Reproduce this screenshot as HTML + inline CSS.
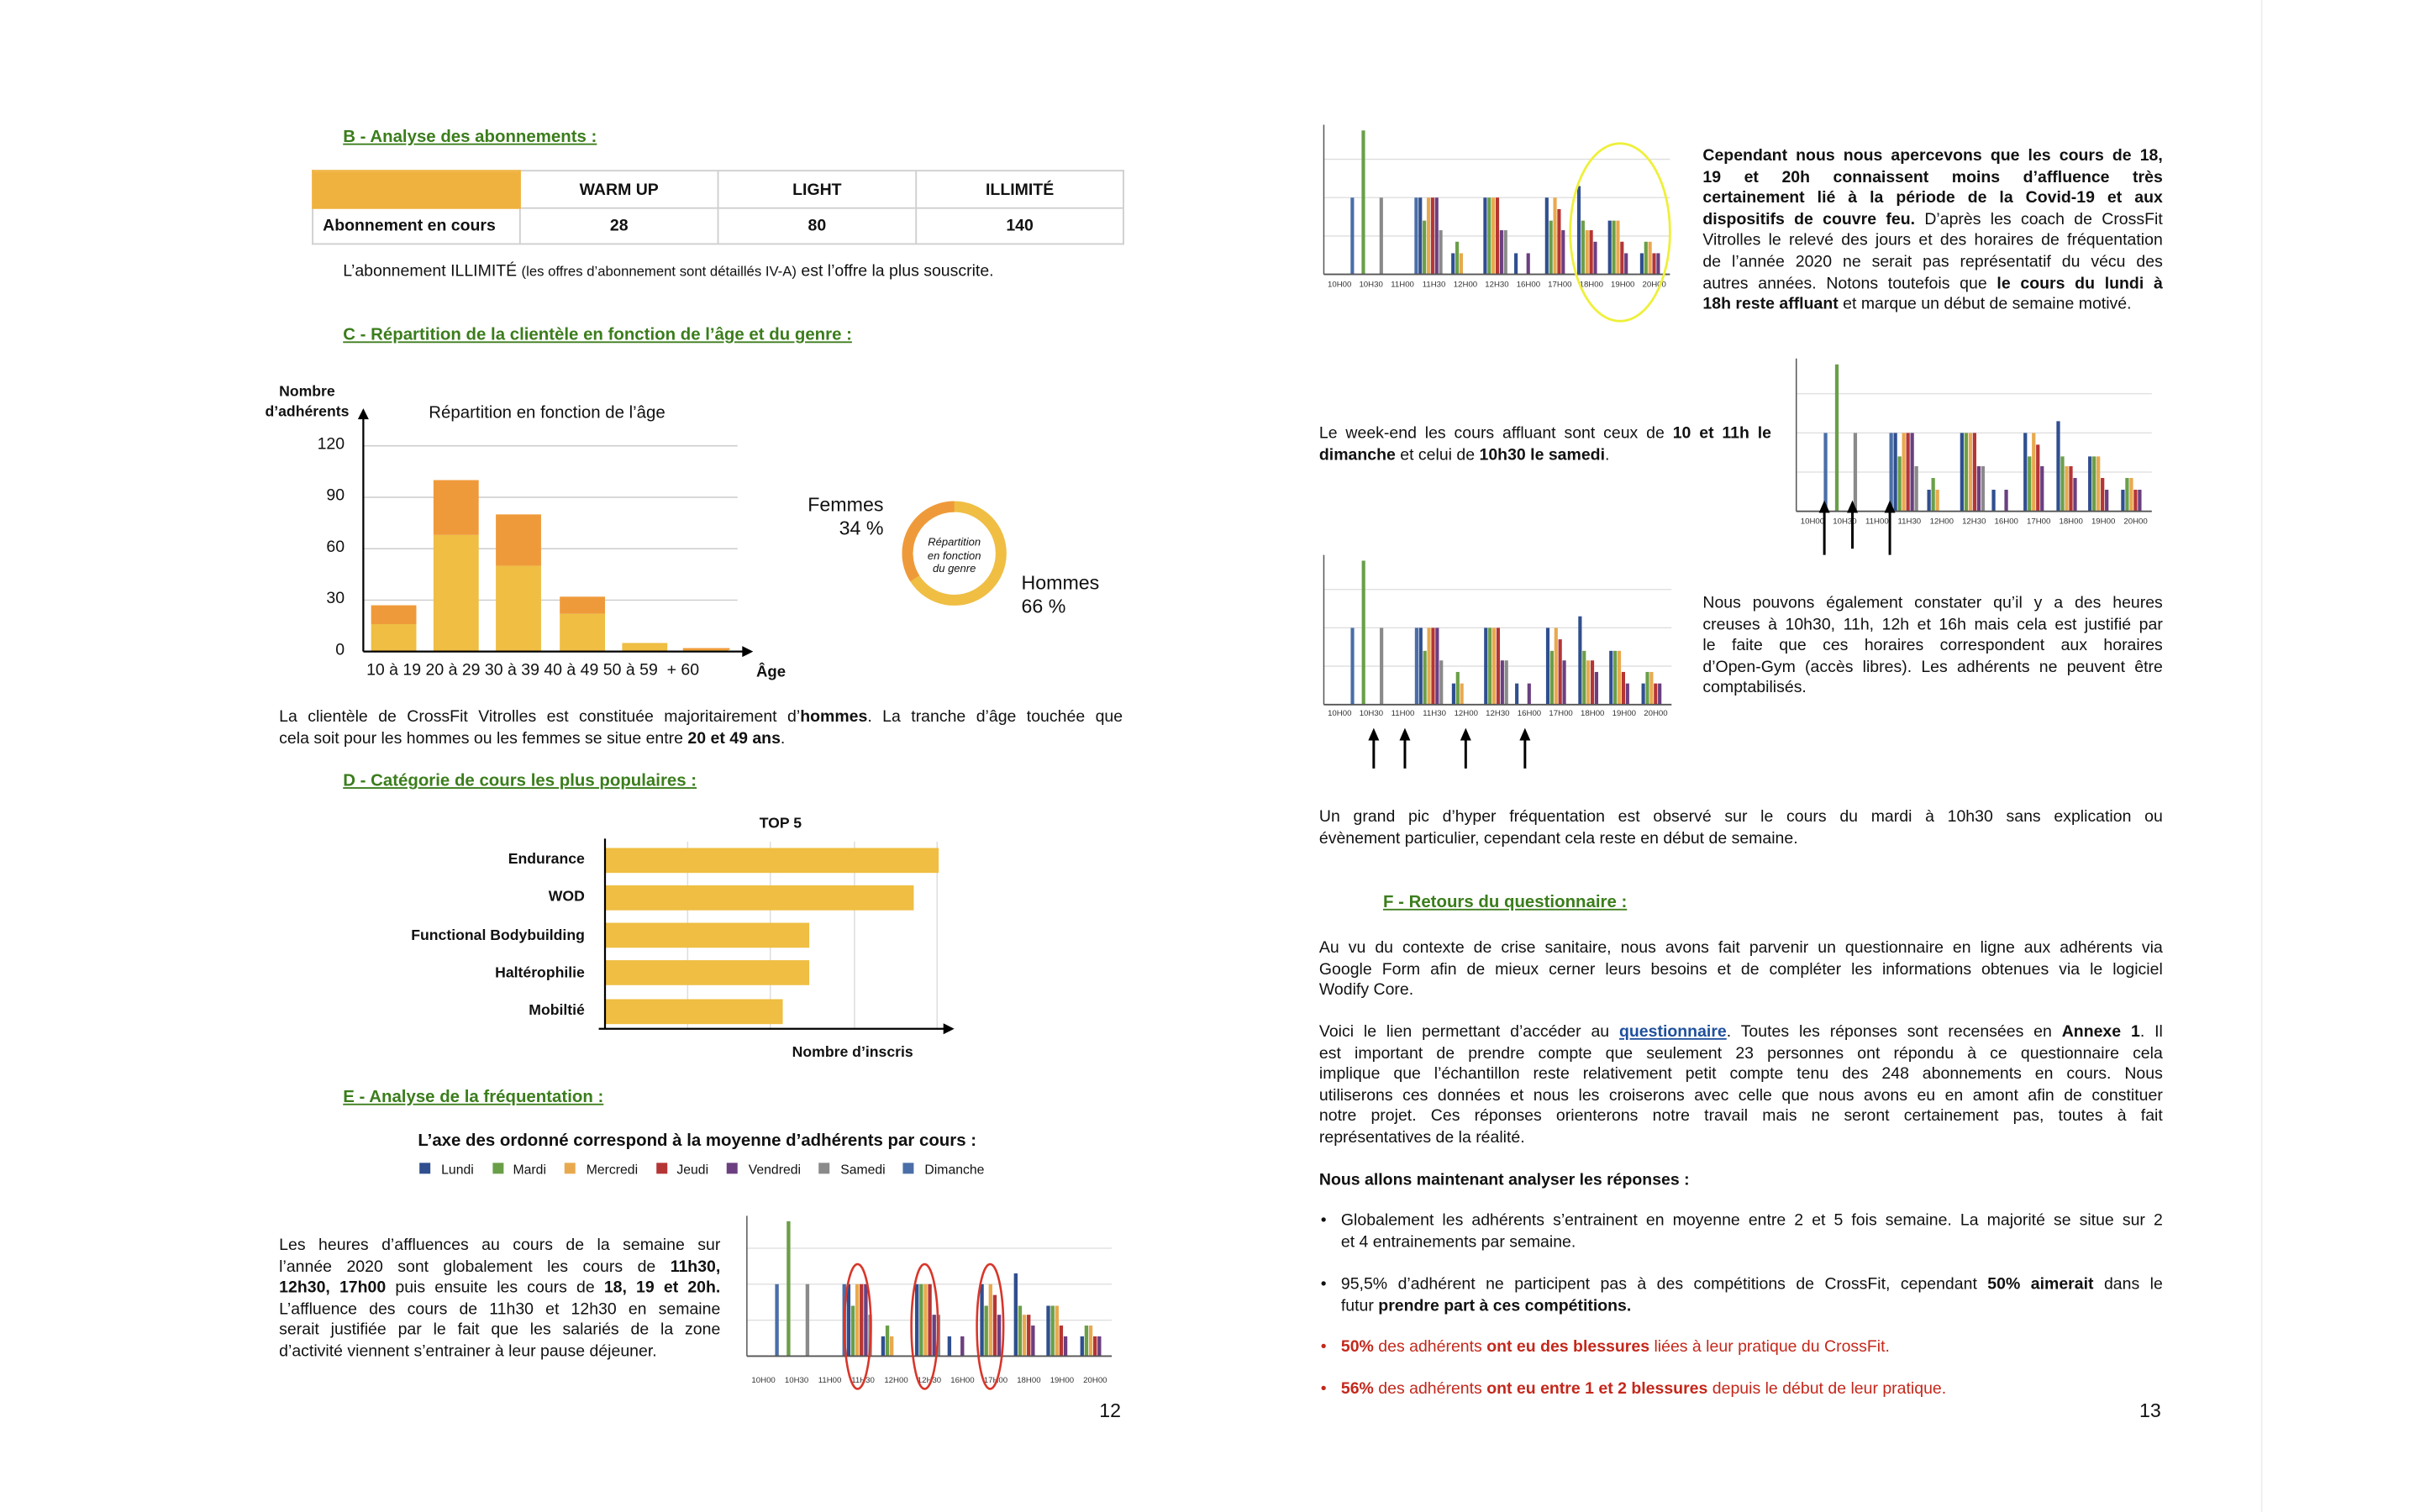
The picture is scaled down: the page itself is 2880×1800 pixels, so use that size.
<!DOCTYPE html>
<html><head><meta charset="utf-8"><style>
html,body{margin:0;padding:0;background:#fff;width:2880px;height:1800px;overflow:hidden}
#p{position:absolute;left:0;top:0;width:1552px;height:970px;transform:scale(1.85567);transform-origin:0 0;font-family:"Liberation Sans",Arial,sans-serif;color:#111;font-size:10.5px}
.a{position:absolute;white-space:nowrap;line-height:13.6px}
.h{position:absolute;color:#3b7d1c;font-weight:bold;text-decoration:underline;font-size:11px;white-space:nowrap}
.j{position:absolute;line-height:13.6px}
.j div{text-align:justify;text-align-last:justify;white-space:nowrap;height:13.6px;overflow:visible}
.j div.l{text-align-last:left}
b{font-weight:bold}
.red{color:#c4271b}
td{border:1px solid #cfcfcf;text-align:center;font-weight:bold;font-size:10.5px;padding:0}
</style></head><body><div id="p">
<div style="position:absolute;left:1450px;top:0;width:1px;height:970px;background:#eee"></div>
<svg id="g" width="1552" height="970" style="position:absolute;left:0;top:0"></svg>

<div class="h" style="left:220px;top:82px">B - Analyse des abonnements :</div>
<table style="position:absolute;left:200px;top:109px;border-collapse:collapse;width:521px;height:48px">
<tr style="height:24px"><td style="width:132px;background:#f0b23e;border-color:#f0b23e"></td><td style="width:126px">WARM UP</td><td style="width:126px">LIGHT</td><td>ILLIMITÉ</td></tr>
<tr><td style="text-align:left;padding-left:6px">Abonnement en cours</td><td>28</td><td>80</td><td>140</td></tr></table>
<div class="a" style="left:220px;top:168px">L’abonnement ILLIMITÉ <span style="font-size:9px">(les offres d’abonnement sont détaillés IV-A)</span> est l’offre la plus souscrite.</div>

<div class="h" style="left:220px;top:209px">C - Répartition de la clientèle en fonction de l’âge et du genre :</div>
<div class="a" style="left:170px;top:245px;font-size:9.5px;font-weight:bold;text-align:center;line-height:13px">Nombre<br>d’adhérents</div>
<div class="a" style="left:275px;top:259px;font-size:11px">Répartition en fonction de l’âge</div>
<div class="a" style="left:196px;top:279px;width:25px;text-align:right">120</div>
<div class="a" style="left:196px;top:312px;width:25px;text-align:right">90</div>
<div class="a" style="left:196px;top:345px;width:25px;text-align:right">60</div>
<div class="a" style="left:196px;top:378px;width:25px;text-align:right">30</div>
<div class="a" style="left:196px;top:411px;width:25px;text-align:right">0</div>
<div class="a" style="left:235px;top:424px;font-size:10.5px">10 à 19 20 à 29 30 à 39 40 à 49 50 à 59 &nbsp;+ 60</div>
<div class="a" style="left:485px;top:425px;font-weight:bold;font-size:10px">Âge</div>
<div class="a" style="left:518px;top:317px;font-size:12.5px;text-align:right;line-height:15px">Femmes<br>34 %</div>
<div class="a" style="left:655px;top:367px;font-size:12.5px;line-height:15px">Hommes<br>66 %</div>
<div class="a" style="left:586px;top:345px;width:52px;text-align:center;font-size:7px;font-style:italic;line-height:8.5px">Répartition<br>en fonction<br>du genre</div>

<div class="j" style="left:179px;top:454px;width:541px"><div>La clientèle de CrossFit Vitrolles est constituée majoritairement d’<b>hommes</b>. La tranche d’âge touchée que</div><div class="l">cela soit pour les hommes ou les femmes se situe entre <b>20 et 49 ans</b>.</div></div>

<div class="h" style="left:220px;top:495px">D - Catégorie de cours les plus populaires :</div>
<div class="a" style="left:487px;top:522px;font-weight:bold;font-size:9.5px">TOP 5</div>
<div class="a" style="left:200px;top:545px;width:175px;text-align:right;font-weight:bold;font-size:9.5px">Endurance</div>
<div class="a" style="left:200px;top:569px;width:175px;text-align:right;font-weight:bold;font-size:9.5px">WOD</div>
<div class="a" style="left:200px;top:594px;width:175px;text-align:right;font-weight:bold;font-size:9.5px">Functional Bodybuilding</div>
<div class="a" style="left:200px;top:618px;width:175px;text-align:right;font-weight:bold;font-size:9.5px">Haltérophilie</div>
<div class="a" style="left:200px;top:642px;width:175px;text-align:right;font-weight:bold;font-size:9.5px">Mobiltié</div>
<div class="a" style="left:508px;top:669px;font-weight:bold;font-size:9.5px">Nombre d’inscris</div>

<div class="h" style="left:220px;top:698px">E - Analyse de la fréquentation :</div>
<div class="a" style="left:268px;top:726px;font-weight:bold;font-size:11px">L’axe des ordonné correspond à la moyenne d’adhérents par cours :</div>
<div class="a" style="left:283px;top:744px;font-size:8.5px">Lundi</div>
<div class="a" style="left:329px;top:744px;font-size:8.5px">Mardi</div>
<div class="a" style="left:376px;top:744px;font-size:8.5px">Mercredi</div>
<div class="a" style="left:434px;top:744px;font-size:8.5px">Jeudi</div>
<div class="a" style="left:480px;top:744px;font-size:8.5px">Vendredi</div>
<div class="a" style="left:539px;top:744px;font-size:8.5px">Samedi</div>
<div class="a" style="left:593px;top:744px;font-size:8.5px">Dimanche</div>

<div class="j" style="left:179px;top:793px;width:283px"><div>Les heures d’affluences au cours de la semaine sur</div><div>l’année 2020 sont globalement les cours de <b>11h30,</b></div><div><b>12h30, 17h00</b> puis ensuite les cours de <b>18, 19 et 20h.</b></div><div>L’affluence des cours de 11h30 et 12h30 en semaine</div><div>serait justifiée par le fait que les salariés de la zone</div><div class="l">d’activité viennent s’entrainer à leur pause déjeuner.</div></div>
<div class="a" style="left:705px;top:899px;font-size:12.5px">12</div>

<div class="j" style="left:1092px;top:94px;width:295px"><div><b>Cependant nous nous apercevons que les cours de 18,</b></div><div><b>19 et 20h connaissent moins d’affluence très</b></div><div><b>certainement lié à la période de la Covid-19 et aux</b></div><div><b>dispositifs de couvre feu.</b> D’après les coach de CrossFit</div><div>Vitrolles le relevé des jours et des horaires de fréquentation</div><div>de l’année 2020 ne serait pas représentatif du vécu des</div><div>autres années. Notons toutefois que <b>le cours du lundi à</b></div><div class="l"><b>18h reste affluant</b> et marque un début de semaine motivé.</div></div>

<div class="j" style="left:846px;top:272px;width:290px"><div>Le week-end les cours affluant sont ceux de <b>10 et 11h le</b></div><div class="l"><b>dimanche</b> et celui de <b>10h30 le samedi</b>.</div></div>

<div class="j" style="left:1092px;top:381px;width:295px"><div>Nous pouvons également constater qu’il y a des heures</div><div>creuses à 10h30, 11h, 12h et 16h mais cela est justifié par</div><div>le faite que ces horaires correspondent aux horaires</div><div>d’Open-Gym (accès libres). Les adhérents ne peuvent être</div><div class="l">comptabilisés.</div></div>

<div class="j" style="left:846px;top:518px;width:541px"><div>Un grand pic d’hyper fréquentation est observé sur le cours du mardi à 10h30 sans explication ou</div><div class="l">évènement particulier, cependant cela reste en début de semaine.</div></div>

<div class="h" style="left:887px;top:573px">F - Retours du questionnaire :</div>
<div class="j" style="left:846px;top:602px;width:541px"><div>Au vu du contexte de crise sanitaire, nous avons fait parvenir un questionnaire en ligne aux adhérents via</div><div>Google Form afin de mieux cerner leurs besoins et de compléter les informations obtenues via le logiciel</div><div class="l">Wodify Core.</div></div>
<div class="j" style="left:846px;top:656px;width:541px"><div>Voici le lien permettant d’accéder au <b style="color:#1f4f9c;text-decoration:underline">questionnaire</b>. Toutes les réponses sont recensées en <b>Annexe 1</b>. Il</div><div>est important de prendre compte que seulement 23 personnes ont répondu à ce questionnaire cela</div><div>implique que l’échantillon reste relativement petit compte tenu des 248 abonnements en cours. Nous</div><div>utiliserons ces données et nous les croiserons avec celle que nous avons eu en amont afin de constituer</div><div>notre projet. Ces réponses orienterons notre travail mais ne seront certainement pas, toutes à fait</div><div class="l">représentatives de la réalité.</div></div>
<div class="a" style="left:846px;top:751px;font-weight:bold">Nous allons maintenant analyser les réponses :</div>
<div class="a" style="left:847px;top:777px">•</div>
<div class="j" style="left:860px;top:777px;width:527px"><div>Globalement les adhérents s’entrainent en moyenne entre 2 et 5 fois semaine. La majorité se situe sur 2</div><div class="l">et 4 entrainements par semaine.</div></div>
<div class="a" style="left:847px;top:818px">•</div>
<div class="j" style="left:860px;top:818px;width:527px"><div>95,5% d’adhérent ne participent pas à des compétitions de CrossFit, cependant <b>50% aimerait</b> dans le</div><div class="l">futur <b>prendre part à ces compétitions.</b></div></div>
<div class="a red" style="left:847px;top:858px">•</div>
<div class="a red" style="left:860px;top:858px"><b>50%</b> des adhérents <b>ont eu des blessures</b> liées à leur pratique du CrossFit.</div>
<div class="a red" style="left:847px;top:885px">•</div>
<div class="a red" style="left:860px;top:885px"><b>56%</b> des adhérents <b>ont eu entre 1 et 2 blessures</b> depuis le début de leur pratique.</div>
<div class="a" style="left:1372px;top:899px;font-size:12.5px">13</div>
</div>
<script>
var S='';
function r(x,y,w,h,c){S+='<rect x="'+x+'" y="'+y+'" width="'+w+'" height="'+h+'" fill="'+c+'"/>';}
function l(x1,y1,x2,y2,c,w){S+='<line x1="'+x1+'" y1="'+y1+'" x2="'+x2+'" y2="'+y2+'" stroke="'+c+'" stroke-width="'+(w||1)+'"/>';}
function t(x,y,s,txt){S+='<text x="'+x+'" y="'+y+'" font-size="'+s+'" text-anchor="middle" font-family="Liberation Sans, Arial, sans-serif" fill="#333">'+txt+'</text>';}
// age chart
[286,319,352,385].forEach(function(y){l(233,y,473,y,'#ccc',0.8);});
var Y='#efbe43',O='#ef9a3a';
[[238,27,16],[278,100,68],[318,80,50],[359,32,22],[399,5,5],[438,2,2]].forEach(function(b){
 r(b[0],418-b[1]*1.1,29,(b[1]-b[2])*1.1,O); r(b[0],418-b[2]*1.1,29,b[2]*1.1,Y);});
r(438,415.8,30,1.2,O);
l(233,418,478,418,'#000',1.2); S+='<polygon points="483,418 476,414.5 476,421.5" fill="#000"/>';
l(233,418,233,268,'#000',1.2); S+='<polygon points="233,262 229.5,269 236.5,269" fill="#000"/>';
// donut
var cx=612,cy=355,R=30;
S+='<circle cx="'+cx+'" cy="'+cy+'" r="'+R+'" fill="none" stroke="'+Y+'" stroke-width="7"/>';
var a=2*Math.PI*0.34, ex=cx-R*Math.sin(a), ey=cy-R*Math.cos(a);
S+='<path d="M'+cx+','+(cy-R)+' A'+R+','+R+' 0 0 0 '+ex.toFixed(2)+','+ey.toFixed(2)+'" fill="none" stroke="'+O+'" stroke-width="7"/>';
// top5
[441,494,548,601].forEach(function(x){l(x,540,x,660,'#ddd',0.8);});
[[544,602],[568,586],[592,519],[616,519],[641,502]].forEach(function(b){r(388,b[0],b[1]-388,16,'#efbe43');});
l(388,538,388,660,'#000',1.2); l(384,660,606,660,'#000',1.2); S+='<polygon points="612,660 605,656.5 605,663.5" fill="#000"/>';
// legend
var C={L:'#2f4f8f',M:'#6a9f48',E:'#e8a94e',J:'#b53535',V:'#6b3f80',S:'#8a8a8a',D:'#4a6ea8'};
[[269,'L'],[316,'M'],[362,'E'],[421,'J'],[466,'V'],[525,'S'],[579,'D']].forEach(function(k){r(k[0],746,7,7,C[k[1]]);});
// freq chart
var slots=[['10H00',0.85,[['D',2]]],['10H30',0.2,[['M',3.75]]],['11H00',-0.23,[['S',2]]],
['11H30',-0.12,[['D',2],['L',2],['M',1.4],['E',2],['J',2],['V',2],['S',1.15]]],
['12H00',0.05,[['L',0.55],['M',0.85],['E',0.55]]],
['12H30',0.07,[['L',2],['M',2],['E',2],['J',2],['V',1.15],['S',1.15]]],
['16H00',0.05,[['L',0.55],[0,0],[0,0],['V',0.55]]],
['17H00',0.03,[['L',2],['M',1.4],['E',2],['J',1.7],['V',1.15]]],
['18H00',0.05,[['L',2.3],['M',1.4],['E',1.15],['J',1.15],['V',0.85]]],
['19H00',0.03,[['L',1.4],['M',1.4],['E',1.4],['J',0.85],['V',0.55]]],
['20H00',0.05,[['L',0.55],['M',0.85],['E',0.85],['J',0.55],['V',0.55]]]];
function chart(x0,x1,top,bot,lab){
 var u=(bot-top)/3.9, sw=(x1-x0)/11;
 for(var g=1;g<=3;g++) l(x0,bot-g*u,x1,bot-g*u,'#ddd',0.7);
 slots.forEach(function(s,i){
  var c=x0+sw*(i+0.5), left=c-sw/2+s[1]*sw, bw=sw*0.13;
  s[2].forEach(function(b,j){ if(b[0]) r(left+j*bw,bot-b[1]*u,bw*0.85,b[1]*u,C[b[0]]);});
  t(c,lab,5.2,s[0]);
 });
 l(x0,bot,x1,bot,'#555',1); l(x0,top,x0,bot,'#555',0.8);
}
chart(479,713,780,870,887);
chart(849,1071,80,176,184);
chart(1152,1380,230,328,336);
chart(849,1072,356,452,459);
// ellipses
[550,593,635].forEach(function(x){S+='<ellipse cx="'+x+'" cy="851" rx="8.5" ry="40" fill="none" stroke="#d8362a" stroke-width="1.4"/>';});
S+='<ellipse cx="1039" cy="149" rx="32" ry="57" fill="none" stroke="#eef03a" stroke-width="1.5"/>';
// arrows
function ar(x,y1,y2){l(x,y1,x,y2+5,'#000',1.6);S+='<polygon points="'+x+','+y2+' '+(x-3.5)+','+(y2+8)+' '+(x+3.5)+','+(y2+8)+'" fill="#000"/>';}
ar(1170,356,321);ar(1188,352,321);ar(1212,356,321);
ar(881,493,467);ar(901,493,467);ar(940,493,467);ar(978,493,467);
document.getElementById('g').innerHTML=S;
</script>
</body></html>
